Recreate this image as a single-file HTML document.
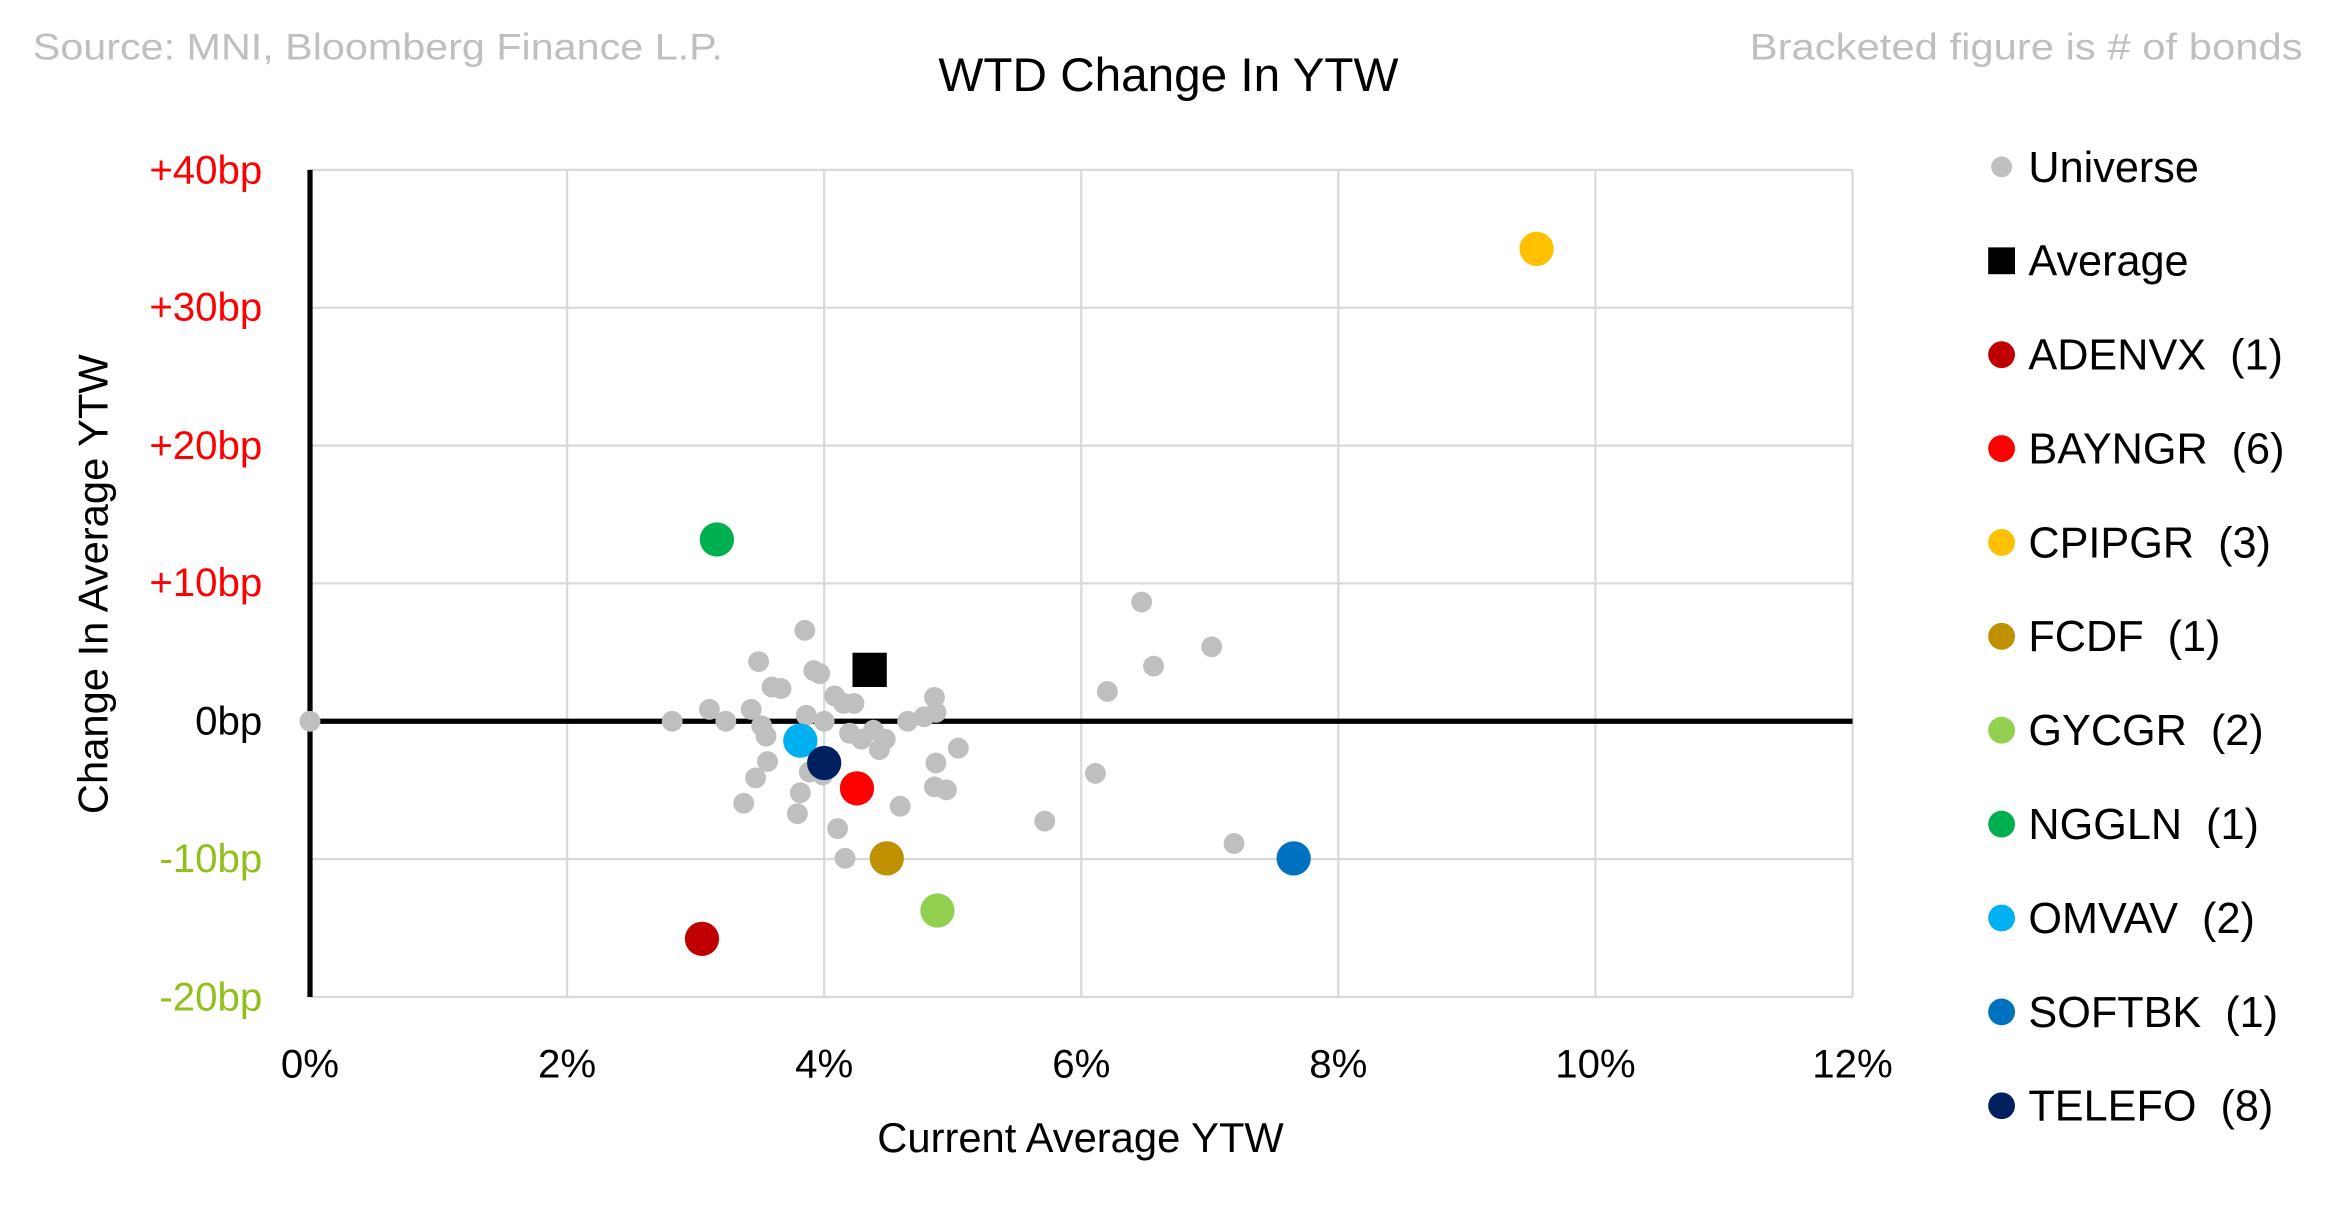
<!DOCTYPE html>
<html><head><meta charset="utf-8"><style>html,body{margin:0;padding:0;background:#fff}svg{display:block}text{white-space:pre}</style></head>
<body>
<svg width="2325" height="1219" viewBox="0 0 1560 818" preserveAspectRatio="none" xmlns="http://www.w3.org/2000/svg" font-family="'Liberation Sans', sans-serif">
<rect width="1560" height="818" fill="#fff"/>
<text x="22" y="40" font-size="25" fill="#bfbfbf" textLength="463" lengthAdjust="spacingAndGlyphs">Source: MNI, Bloomberg Finance L.P.</text>
<text x="1174" y="40" font-size="25" fill="#bfbfbf" textLength="371" lengthAdjust="spacingAndGlyphs">Bracketed figure is # of bonds</text>
<text x="784" y="61" font-size="32" fill="#000" text-anchor="middle">WTD Change In YTW</text>
<g stroke="#d9d9d9" stroke-width="1.5">
<line x1="380.5" y1="114" x2="380.5" y2="669"/><line x1="553" y1="114" x2="553" y2="669"/><line x1="725.5" y1="114" x2="725.5" y2="669"/><line x1="898" y1="114" x2="898" y2="669"/><line x1="1070.5" y1="114" x2="1070.5" y2="669"/><line x1="1243" y1="114" x2="1243" y2="669"/>
<line x1="208" y1="114" x2="1243" y2="114"/><line x1="208" y1="206.5" x2="1243" y2="206.5"/><line x1="208" y1="299" x2="1243" y2="299"/><line x1="208" y1="391.5" x2="1243" y2="391.5"/><line x1="208" y1="576.5" x2="1243" y2="576.5"/><line x1="208" y1="669" x2="1243" y2="669"/>
</g>
<line x1="208" y1="114" x2="208" y2="669" stroke="#000" stroke-width="3.5"/>
<line x1="208" y1="484" x2="1243" y2="484" stroke="#000" stroke-width="3.5"/>
<g font-size="27" text-anchor="end">
<text x="176" y="123" fill="#ff0000">+40bp</text><text x="176" y="215" fill="#ff0000">+30bp</text><text x="176" y="308" fill="#ff0000">+20bp</text><text x="176" y="400" fill="#ff0000">+10bp</text><text x="176" y="493" fill="#000">0bp</text><text x="176" y="585" fill="#92c01a">-10bp</text><text x="176" y="678" fill="#92c01a">-20bp</text>
</g>
<g font-size="27" text-anchor="middle" fill="#000">
<text x="208" y="723">0%</text><text x="380.5" y="723">2%</text><text x="553" y="723">4%</text><text x="725.5" y="723">6%</text><text x="898" y="723">8%</text><text x="1070.5" y="723">10%</text><text x="1243" y="723">12%</text>
</g>
<text x="725" y="773" font-size="28" text-anchor="middle">Current Average YTW</text>
<text transform="translate(72,392) rotate(-90)" font-size="28" text-anchor="middle">Change In Average YTW</text>
<g fill="#bfbfbf">
<circle cx="208" cy="484" r="7"/><circle cx="451" cy="484" r="7"/><circle cx="476" cy="476" r="7"/><circle cx="487" cy="484" r="7"/><circle cx="504" cy="476" r="7"/><circle cx="509" cy="444" r="7"/><circle cx="511" cy="487" r="7"/><circle cx="514" cy="494" r="7"/><circle cx="518" cy="461" r="7"/><circle cx="524" cy="462" r="7"/><circle cx="515" cy="511" r="7"/><circle cx="507" cy="522" r="7"/><circle cx="499" cy="539" r="7"/><circle cx="540" cy="423" r="7"/><circle cx="546" cy="450" r="7"/><circle cx="550" cy="452" r="7"/><circle cx="541" cy="480" r="7"/><circle cx="553" cy="484" r="7"/><circle cx="560" cy="467" r="7"/><circle cx="566" cy="472" r="7"/><circle cx="573" cy="472" r="7"/><circle cx="570" cy="492" r="7"/><circle cx="578" cy="496" r="7"/><circle cx="586" cy="490" r="7"/><circle cx="590" cy="503" r="7"/><circle cx="594" cy="496" r="7"/><circle cx="609" cy="484" r="7"/><circle cx="620" cy="481" r="7"/><circle cx="627" cy="468" r="7"/><circle cx="628" cy="478" r="7"/><circle cx="643" cy="502" r="7"/><circle cx="628" cy="512" r="7"/><circle cx="627" cy="528" r="7"/><circle cx="635" cy="530" r="7"/><circle cx="604" cy="541" r="7"/><circle cx="562" cy="556" r="7"/><circle cx="567" cy="576" r="7"/><circle cx="535" cy="546" r="7"/><circle cx="537" cy="532" r="7"/><circle cx="543" cy="518" r="7"/><circle cx="552" cy="520" r="7"/><circle cx="701" cy="551" r="7"/><circle cx="735" cy="519" r="7"/><circle cx="743" cy="464" r="7"/><circle cx="766" cy="404" r="7"/><circle cx="774" cy="447" r="7"/><circle cx="813" cy="434" r="7"/><circle cx="828" cy="566" r="7"/>
</g>
<rect x="572" y="438" width="23" height="23" fill="#000"/>
<circle cx="1031" cy="167" r="11.5" fill="#ffc000"/>
<circle cx="481" cy="362" r="11.5" fill="#00b050"/>
<circle cx="471" cy="630" r="11.5" fill="#c00000"/>
<circle cx="575" cy="529" r="11.5" fill="#ff0000"/>
<circle cx="595" cy="576" r="11.5" fill="#bf9000"/>
<circle cx="629" cy="611" r="11.5" fill="#92d050"/>
<circle cx="537" cy="497" r="11.5" fill="#00b0f0"/>
<circle cx="868" cy="576" r="11.5" fill="#0070c0"/>
<circle cx="553" cy="512" r="11.5" fill="#002060"/>
<g font-size="29" fill="#000">
<circle cx="1343" cy="112" r="7" fill="#bfbfbf"/><text x="1361" y="122">Universe</text>
<rect x="1334" y="166" width="18" height="18" fill="#000"/><text x="1361" y="185">Average</text>
<circle cx="1343" cy="238" r="9" fill="#c00000"/><text x="1361" y="248">ADENVX  (1)</text>
<circle cx="1343" cy="301" r="9" fill="#ff0000"/><text x="1361" y="311">BAYNGR  (6)</text>
<circle cx="1343" cy="364" r="9" fill="#ffc000"/><text x="1361" y="374">CPIPGR  (3)</text>
<circle cx="1343" cy="427" r="9" fill="#bf9000"/><text x="1361" y="437">FCDF  (1)</text>
<circle cx="1343" cy="490" r="9" fill="#92d050"/><text x="1361" y="500">GYCGR  (2)</text>
<circle cx="1343" cy="553" r="9" fill="#00b050"/><text x="1361" y="563">NGGLN  (1)</text>
<circle cx="1343" cy="616" r="9" fill="#00b0f0"/><text x="1361" y="626">OMVAV  (2)</text>
<circle cx="1343" cy="679" r="9" fill="#0070c0"/><text x="1361" y="689">SOFTBK  (1)</text>
<circle cx="1343" cy="742" r="9" fill="#002060"/><text x="1361" y="752">TELEFO  (8)</text>
</g>
</svg>
</body></html>
